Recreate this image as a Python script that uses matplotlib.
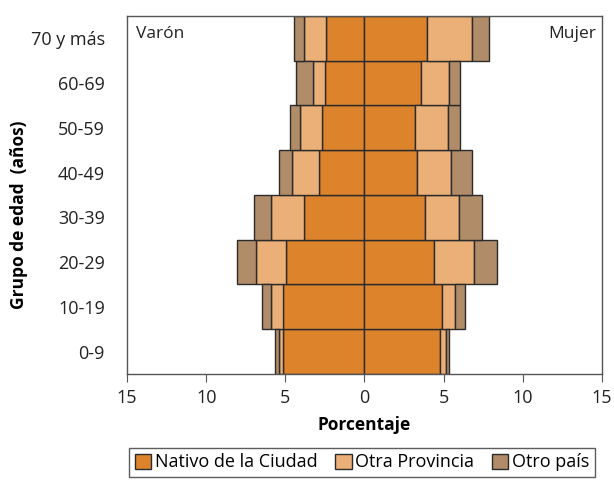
import matplotlib.pyplot as plt
import numpy as np

plt.rcParams["font.family"] = ["Open Sans", "DejaVu Sans"]

grupos = ["0-9", "10-19", "20-29", "30-39", "40-49", "50-59", "60-69", "70 y más"]
series = ["Nativo de la Ciudad", "Otra Provincia", "Otro país"]
colores = ["#DD832C", "#EBAF78", "#B08C69"]

# percentages per age group (0-9 first)
varon_nativo = [5.17, 5.17, 4.94, 3.83, 2.88, 2.67, 2.52, 2.42]
varon_provincia = [0.24, 0.72, 1.91, 2.06, 1.70, 1.41, 0.74, 1.41]
varon_otro = [0.25, 0.60, 1.20, 1.10, 0.82, 0.63, 1.09, 0.63]

mujer_nativo = [4.78, 4.88, 4.40, 3.81, 3.33, 3.20, 3.58, 3.94]
mujer_provincia = [0.35, 0.85, 2.52, 2.15, 2.16, 2.06, 1.79, 2.86]
mujer_otro = [0.24, 0.60, 1.43, 1.45, 1.31, 0.81, 0.70, 1.09]

fig = plt.figure(figsize=(6.14, 4.80), dpi=100)
ax = fig.add_axes([0.207, 0.221, 0.773, 0.746])

y = np.arange(len(grupos))
edge = dict(edgecolor="#2b2b2b", linewidth=1.0, height=1.0)

left_v = np.zeros(len(grupos))
left_m = np.zeros(len(grupos))
handles = []
for vals_v, vals_m, color, name in zip(
    [varon_nativo, varon_provincia, varon_otro],
    [mujer_nativo, mujer_provincia, mujer_otro],
    colores,
    series,
):
    vals_v = np.array(vals_v)
    vals_m = np.array(vals_m)
    h = ax.barh(y, -vals_v, left=-left_v, color=color, label=name, **edge)
    ax.barh(y, vals_m, left=left_m, color=color, **edge)
    left_v += vals_v
    left_m += vals_m
    handles.append(h)

ax.set_xlim(-15, 15)
ax.set_ylim(-0.5, len(grupos) - 0.5)
ax.set_xticks([-15, -10, -5, 0, 5, 10, 15])
ax.set_xticklabels(["15", "10", "5", "0", "5", "10", "15"])
ax.set_yticks(y)
ax.set_yticklabels(grupos)
ax.tick_params(axis="y", length=0, labelsize=13, colors="#222222", pad=16)
ax.tick_params(axis="x", length=6, labelsize=13, colors="#222222",
               direction="out", pad=5, color="#555555")
for s in ax.spines.values():
    s.set_color("#555555")
    s.set_linewidth(1.0)

ax.text(0.019, 0.950, "Varón", transform=ax.transAxes, fontsize=12.5,
        ha="left", va="center", color="#222222")
ax.text(0.989, 0.950, "Mujer", transform=ax.transAxes, fontsize=12.5,
        ha="right", va="center", color="#222222")

ax.set_xlabel("Porcentaje", fontsize=12.5, fontweight="bold", labelpad=6)
ax.set_ylabel("Grupo de edad  (años)", fontsize=12.5, fontweight="bold")
ax.yaxis.set_label_coords(-0.208, 0.444)

leg = fig.legend(handles=handles, loc="center", bbox_to_anchor=(0.5896, 0.0365),
                 ncol=3, frameon=True, fancybox=False, fontsize=13,
                 handlelength=0.9, handleheight=0.9, handletextpad=0.2,
                 columnspacing=1.0, borderpad=0.3, borderaxespad=0)
leg.get_frame().set_edgecolor("#333333")
leg.get_frame().set_linewidth(1.0)

fig.savefig("out.png", dpi=100)
